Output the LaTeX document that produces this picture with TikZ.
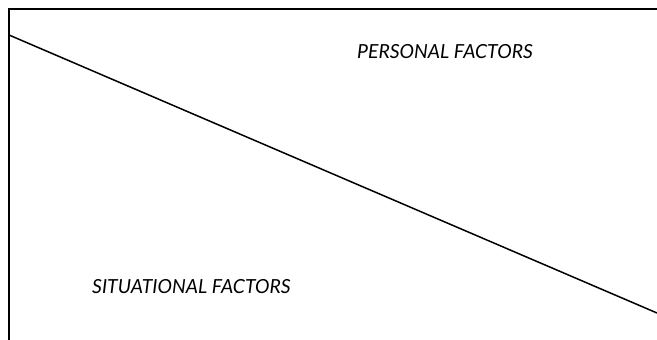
\documentclass[tikz,border=0pt]{standalone}
\usepackage{fontspec}
\setmainfont{Lato}
\begin{document}
\begin{tikzpicture}[x=1pt,y=-1pt,
  edge/.style={line width=1.5pt,black},
  lbl/.style={font=\itshape\fontsize{19.4}{22}\selectfont,inner sep=0pt,anchor=west}]
\useasboundingbox (0,0) rectangle (657,340);
\coordinate (tl) at (9,9);
\coordinate (tr) at (657,9);
\coordinate (bl) at (9,340);
\coordinate (ds) at (9,35);
\coordinate (de) at (657,313);
\draw[edge] (bl) -- (tl) -- (tr);
\draw[edge] (ds) -- (de);
\node[lbl] (personal) at (357,52) {PERSONAL FACTORS};
\node[lbl] (situational) at (92,287) {SITUATIONAL FACTORS};
\end{tikzpicture}
\end{document}
